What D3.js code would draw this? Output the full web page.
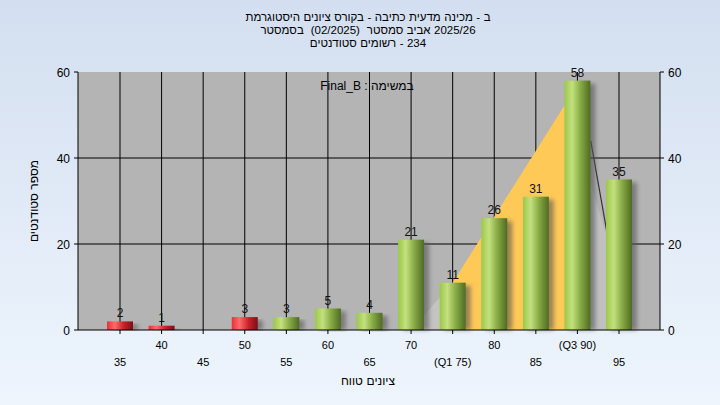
<!DOCTYPE html><html><head><meta charset="utf-8">
<script src="https://cdn.jsdelivr.net/npm/d3@7"></script>
<style>body{margin:0}svg{display:block;font-family:"Liberation Sans",Arial,sans-serif}</style></head><body>
<svg id="c" width="720" height="405"></svg>
<script>
const categories=[35,40,45,50,55,60,65,70,75,80,85,90,95];
const tickLabels=["35","40","45","50","55","60","65","70","(Q1 75)","80","85","(Q3 90)","95"];
const values=[2,1,0,3,3,5,4,21,11,26,31,58,35];
const failing=[true,true,true,true,false,false,false,false,false,false,false,false,false];
const yTicks=[0,20,40,60];
const titleLines=[["היסטוגרמת","ציונים","בקורס","-","כתיבה","מדעית","מכינה","-","ב"],["בסמסטר","","(02/2025)","","סמסטר","אביב","2025/26"],["סטודנטים","רשומים","-","234"]];
const subtitle="Final_B : במשימה";
const xTitle=["טווח","ציונים"];
const yTitle="מספר סטודנטים";
const iqrTop=[[75,11],[90,57]];
const whisker=[[91.6,44],[93.8,20]];

const svg=d3.select("#c");
const defs=svg.append("defs");
const bg=defs.append("linearGradient").attr("id","bg").attr("x1",0).attr("y1",0).attr("x2",0).attr("y2",1);
bg.append("stop").attr("offset",0).attr("stop-color","#d3dff0");
bg.append("stop").attr("offset",1).attr("stop-color","#eef5fd");
function cyl(id,c){const g=defs.append("linearGradient").attr("id",id);
 c.forEach((s,i)=>g.append("stop").attr("offset",s[0]).attr("stop-color",s[1]));}
cyl("gG",[[0,"#9cc84a"],[0.3,"#c4e07e"],[0.6,"#8aae48"],[1,"#4f6b22"]]);
cyl("gR",[[0,"#e8303a"],[0.3,"#ff6a6a"],[0.65,"#c8202a"],[1,"#7a1015"]]);
const sh=defs.append("filter").attr("id","sh").attr("x","-50%").attr("width","200%");
sh.append("feGaussianBlur").attr("stdDeviation",2);
svg.append("rect").attr("width",720).attr("height",405).attr("fill","url(#bg)");

const L=78,R=660,T=72,B=330;
const x=d3.scalePoint().domain(categories).range([120,619]);
const step=x.step();
const xl=d3.scaleLinear().domain([35,95]).range([120,619]);
const y=d3.scaleLinear().domain([0,60]).range([B,T]);
svg.append("rect").attr("x",L).attr("y",T).attr("width",R-L).attr("height",B-T).attr("fill","#b4b4b4");
// grid
svg.append("g").selectAll("line").data(categories).join("line").attr("x1",d=>x(d)).attr("x2",d=>x(d)).attr("y1",T).attr("y2",B).attr("stroke","#000");
svg.append("g").selectAll("line").data(yTicks.slice(1,3)).join("line").attr("x1",L).attr("x2",R).attr("y1",d=>y(d)).attr("y2",d=>y(d)).attr("stroke","#000");
// box area
svg.append("path").attr("d",d3.line()([[xl(70),y(0)],[xl(iqrTop[0][0]),y(iqrTop[0][1])],[xl(iqrTop[0][0]),y(0)]])).attr("fill","#c4c4c4");
svg.append("path").attr("d",d3.line()([[xl(iqrTop[0][0]),y(0)],[xl(iqrTop[0][0]),y(iqrTop[0][1])],[xl(iqrTop[1][0]),y(iqrTop[1][1])],[xl(iqrTop[1][0]),y(0)]])).attr("fill","#ffc957");
svg.append("path").attr("d",d3.line()([[xl(iqrTop[1][0]),y(0)],[xl(iqrTop[1][0]),y(whisker[0][1])],[xl(whisker[1][0]),y(whisker[1][1])],[xl(whisker[1][0]),y(0)]])).attr("fill","#c0c0c0");
svg.append("path").attr("d",d3.line()(whisker.map(d=>[xl(d[0]),y(d[1])]))).attr("stroke","#333").attr("stroke-width",1.2).attr("fill","none");
// bars
const bw=26;
const data=categories.map((c,i)=>({c,v:values[i],f:failing[i]})).filter(d=>d.v>0);
svg.append("g").selectAll("rect").data(data).join("rect").attr("x",d=>x(d.c)-bw/2+5).attr("y",d=>y(d.v)+3).attr("width",bw).attr("height",d=>B-y(d.v)-3).attr("fill","#555").attr("opacity",0.6).attr("filter","url(#sh)");
svg.append("g").selectAll("rect").data(data).join("rect").attr("x",d=>x(d.c)-bw/2).attr("y",d=>y(d.v)).attr("width",bw).attr("height",d=>B-y(d.v)).attr("fill",d=>d.f?"url(#gR)":"url(#gG)");
svg.append("g").selectAll("text").data(data).join("text").attr("x",d=>x(d.c)).attr("y",d=>y(d.v)-4).attr("text-anchor","middle").attr("font-size",12).attr("fill","#111").text(d=>d.v);
// axes
svg.append("line").attr("x1",L).attr("x2",R).attr("y1",B).attr("y2",B).attr("stroke","#000");
svg.append("line").attr("x1",L).attr("x2",L).attr("y1",T).attr("y2",B).attr("stroke","#000");
svg.append("line").attr("x1",R).attr("x2",R).attr("y1",T).attr("y2",B).attr("stroke","#000");
const ax=svg.append("g").attr("font-size",12);
yTicks.forEach(t=>{
 ax.append("line").attr("x1",L-4).attr("x2",L).attr("y1",y(t)).attr("y2",y(t)).attr("stroke","#000");
 ax.append("line").attr("x1",R).attr("x2",R+4).attr("y1",y(t)).attr("y2",y(t)).attr("stroke","#000");
 ax.append("text").attr("x",L-8).attr("y",y(t)+5).attr("text-anchor","end").text(t);
 ax.append("text").attr("x",R+8).attr("y",y(t)+5).text(t);
});
categories.forEach((c,i)=>{
 ax.append("line").attr("x1",x(c)).attr("x2",x(c)).attr("y1",B).attr("y2",B+4).attr("stroke","#000");
 ax.append("text").attr("x",x(c)).attr("y",i%2?349:366).attr("text-anchor","middle").attr("font-size",11).text(tickLabels[i]);
});
// text helpers: words laid out left to right
function words(arr,cx,yy,size){
 const g=svg.append("g").attr("font-size",size);
 const ts=arr.map(w=>g.append("text").attr("y",yy).text(w));
 const sp=size*0.3;
 const ws=ts.map(t=>t.node().getComputedTextLength());
 const tot=d3.sum(ws)+sp*(ws.length-1);
 let cur=cx-tot/2;
 ts.forEach((t,i)=>{t.attr("x",cur);cur+=ws[i]+sp;});
}
titleLines.forEach((l,i)=>words(l,368,21+i*13,11.5));
words(xTitle,368,385,12);
svg.append("text").attr("x",367).attr("y",90).attr("text-anchor","middle").attr("font-size",12).text(subtitle);
svg.append("text").attr("transform","translate(38,201) rotate(-90)").attr("text-anchor","middle").attr("font-size",12).text(yTitle);
</script></body></html>
